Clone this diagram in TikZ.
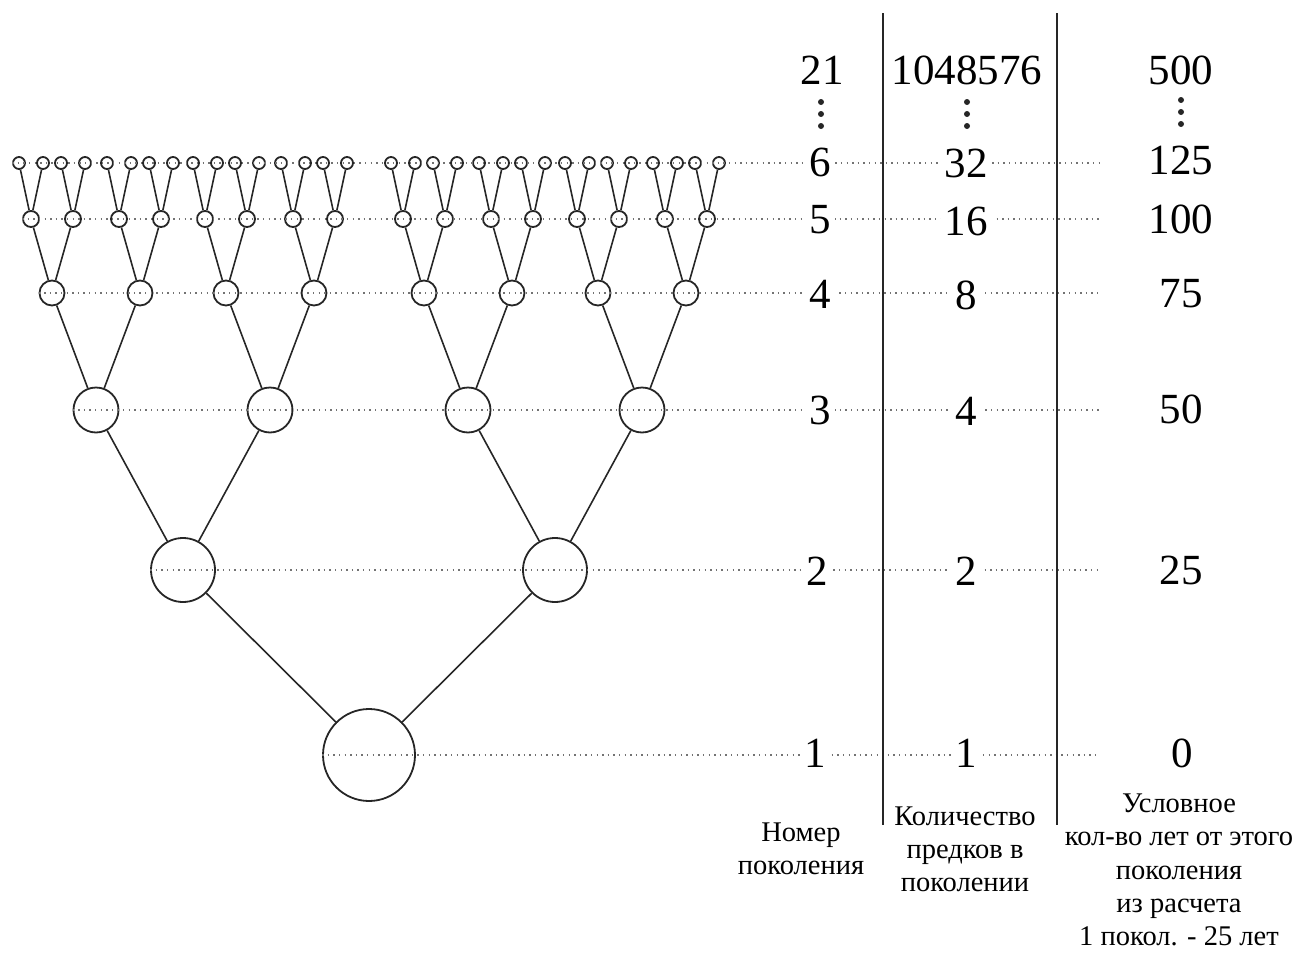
\documentclass[tikz,border=0pt]{standalone}
\usepackage{fontspec}
\setmainfont{Liberation Serif}
\begin{document}
\begin{tikzpicture}[x=1pt,y=-1pt,
  tn/.style={circle,draw=black!85,line width=1.8pt,inner sep=0pt,minimum size=#1},
  treeedge/.style={draw=black!85,line width=1.6pt},
  dotline/.style={draw=black!55,line width=1.4pt,dash pattern=on 1.4pt off 4.2pt},
  numtext/.style={font=\fontsize{43}{48}\selectfont,fill=white,inner sep=4pt},
  captext/.style={font=\fontsize{28.5}{33.2}\selectfont,align=center,inner sep=0pt},
  vline/.style={draw=black!85,line width=2pt},
  vdot/.style={circle,fill=black!85,inner sep=0pt,minimum size=6pt}]
\useasboundingbox (0,0) rectangle (1307,953);
% ---- tree nodes ----
\node[tn=92pt] (g1-0) at (369,755) {};
\foreach \x [count=\i from 0] in {183,555}
  \node[tn=64pt] (g2-\i) at (\x,570) {};
\foreach \x [count=\i from 0] in {96,270,468,642}
  \node[tn=45pt] (g3-\i) at (\x,410) {};
\foreach \x [count=\i from 0] in {52,140,226,314,424,512,598,686}
  \node[tn=25pt] (g4-\i) at (\x,293) {};
\foreach \x [count=\i from 0] in {31,73,119,161,205,247,293,335,403,445,491,533,577,619,665,707}
  \node[tn=16pt] (g5-\i) at (\x,219) {};
\foreach \x [count=\i from 0] in {19,43,61,85,107,131,149,173,193,217,235,259,281,305,323,347,391,415,433,457,479,503,521,545,565,589,607,631,653,677,695,719}
  \node[tn=12pt] (g6-\i) at (\x,163) {};
% ---- edges ----
\foreach \i in {0,1} \draw[treeedge] (g2-\i) -- (g1-0);
\foreach \i in {0,...,3} {\pgfmathtruncatemacro\p{floor(\i/2)} \draw[treeedge] (g3-\i) -- (g2-\p);}
\foreach \i in {0,...,7} {\pgfmathtruncatemacro\p{floor(\i/2)} \draw[treeedge] (g4-\i) -- (g3-\p);}
\foreach \i in {0,...,15} {\pgfmathtruncatemacro\p{floor(\i/2)} \draw[treeedge] (g5-\i) -- (g4-\p);}
\foreach \i in {0,...,31} {\pgfmathtruncatemacro\p{floor(\i/2)} \draw[treeedge] (g6-\i) -- (g5-\p);}
% ---- dotted level lines ----
\coordinate (e1) at (1100,755);
\coordinate (e2) at (1100,570);
\coordinate (e3) at (1100,410);
\coordinate (e4) at (1100,293);
\coordinate (e5) at (1100,219);
\coordinate (e6) at (1100,163);
\draw[dotline] (g1-0.west) -- (e1);
\draw[dotline] (g2-0.west) -- (e2);
\draw[dotline] (g3-0.west) -- (e3);
\draw[dotline] (g4-0.west) -- (e4);
\draw[dotline] (g5-0.west) -- (e5);
\draw[dotline] (g6-0.west) -- (e6);
% ---- numbers ----
\node[numtext] (a21) at (822,70) {21};
\node[numtext] (b21) at (967,70) {1048576};
\node[numtext] (c21) at (1181,70) {500};
\foreach \yy [count=\k] in {102,114,126} {
  \node[vdot] (da\k) at (821,\yy) {};
  \node[vdot] (db\k) at (967,\yy) {};
  \node[vdot] (dc\k) at (1181,\yy-2) {};
}
\node[numtext] (a6) at (820,162) {6};
\node[numtext] (b6) at (966,163) {32};
\node[numtext] (c6) at (1181,160) {125};
\node[numtext] (a5) at (820,220) {5};
\node[numtext] (b5) at (966,221) {16};
\node[numtext] (c5) at (1181,219) {100};
\node[numtext] (a4) at (820,294) {4};
\node[numtext] (b4) at (966,295) {8};
\node[numtext] (c4) at (1181,294) {75};
\node[numtext] (a3) at (820,410) {3};
\node[numtext] (b3) at (966,411) {4};
\node[numtext] (c3) at (1181,409) {50};
\node[numtext] (a2) at (817,571) {2};
\node[numtext] (b2) at (966,571) {2};
\node[numtext] (c2) at (1181,570) {25};
\node[numtext] (a1) at (815,753) {1};
\node[numtext] (b1) at (966,753) {1};
\node[numtext] (c1) at (1182,753) {0};
% ---- column separators ----
\coordinate (v1t) at (883,13);
\coordinate (v1b) at (883,825);
\coordinate (v2t) at (1057,13);
\coordinate (v2b) at (1057,825);
\draw[vline] (v1t) -- (v1b);
\draw[vline] (v2t) -- (v2b);
% ---- captions ----
\node[captext] (capa) at (801,849) {Номер\\поколения};
\node[captext] (capb) at (965,849) {Количество\\предков в\\поколении};
\node[captext] (capc) at (1179,870) {Условное\\кол-во лет от этого\\поколения\\из расчета\\1 покол. - 25 лет};
\end{tikzpicture}
\end{document}
